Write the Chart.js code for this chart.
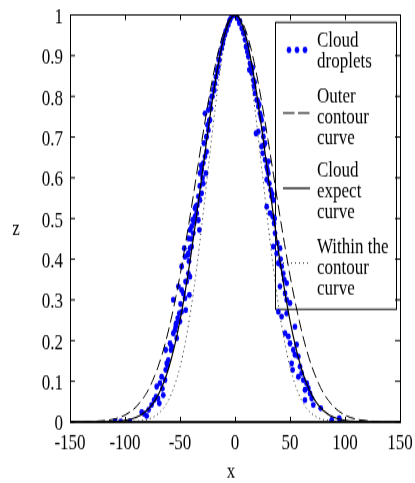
<!DOCTYPE html>
<html>
<head>
<meta charset="utf-8">
<script src="https://cdn.jsdelivr.net/npm/chart.js@4"></script>
<style>
  html, body { margin: 0; padding: 0; background: #fff; overflow: hidden; }
  #wrap { width: 415px; height: 483px; overflow: hidden; }
  /* the source figure is stretched vertically (~1.3x), so the canvas is too */
  #chart { transform: scale(1, 1.2984); transform-origin: 0 0; }
</style>
</head>
<body>
<div id="wrap"><canvas id="chart" width="415" height="372"></canvas></div>
<script>
// === data ===
const xTicks = [-150, -100, -50, 0, 50, 100, 150];
const xTickLabels = ['-150', '-100', '-50', '0', '50', '100', '150'];
const zTickLabels = ['0', '0.1', '0.2', '0.3', '0.4', '0.5', '0.6', '0.7', '0.8', '0.9', '1'];

const legendLabels = [
  ['Cloud', 'droplets'],
  ['Outer', 'contour', 'curve'],
  ['Cloud', 'expect', 'curve'],
  ['Within the', 'contour', 'curve']
];

// cloud droplets (x, z)
const dropX = [
  -109.1, -103.9, -95.5, -84.8, -80.3, -75.8, -73.6, -71.8, -71.2, -68.2,
  -66.7, -68.8, -65.2, -63.6, -63.0, -62.1, -60.6, -63.0, -59.1, -58.2,
  -56.1, -54.5, -53.0, -53.6, -52.1, -50.6, -50.0, -48.5, -56.1, -51.5,
  -48.5, -47.0, -45.5, -43.9, -44.8, -42.4, -40.9, -41.5, -48.5, -45.5,
  -46.1, -42.4, -40.9, -39.4, -42.4, -40.9, -39.4, -37.9, -38.5, -36.4,
  -34.8, -33.3, -32.4, -36.4, -34.2, -31.8, -30.3, -28.8, -33.3, -31.8,
  -30.3, -28.8, -27.3, -25.8, -26.4, -28.2, -25.8, -24.2, -22.7, -27.3,
  -24.2, -22.7, -21.2, -19.7, -18.2, -17.3, -16.7, -15.2, -14.2, -13.6,
  -12.1, -10.6, -9.1, -7.6, -6.1, -4.5, -3.0,
  -20.5, -23.5, -26.0, -29.5, -32.0, -35.5, -37.0, -39.8, -43.0, -11.0,
  -16.0, -19.0, -8.5, -5.0, -1.5, -25.0, -30.8, -14.8, -18.8, -21.8,
  -57.5, -61.5, -66.0, -70.0, -78.5, -82.5, -45.0, -49.5, -53.8, -41.8,
  0.0, 2.1, 3.9, 6.1, 7.6, 9.1, 10.0, 11.2, 12.1, 13.6,
  13.0, 15.2, 16.7, 17.3, 18.2, 19.7, 21.2, 22.7, 24.2, 19.1,
  21.2, 25.8, 27.3, 24.2, 25.2, 27.3, 28.8, 30.3, 28.8, 31.2,
  32.4, 33.3, 34.8, 28.8, 31.8, 34.2, 35.5, 36.4, 34.8, 37.9,
  40.9, 39.4, 42.4, 43.9, 47.0, 40.9, 45.5, 47.0, 50.0, 39.4,
  42.4, 47.0, 45.5, 48.5, 50.0, 54.5, 53.0, 54.5, 51.5, 57.6,
  59.1, 60.6, 62.1, 65.2, 66.7, 68.2, 69.7, 71.2, 77.9, 63.6,
  57.6, 52.4, 63.6, 87.9, 94.8, 95.5,
  1.5, 4.5, 8.5, 11.5, 14.5, 17.8, 20.5, 23.5, 26.5, 29.5,
  33.8, 36.0, 38.5, 26.0, 30.5, 16.0, 22.0, 41.5, 44.8, 56.0
];
const dropZ = [
  0.002, 0.001, 0.001, 0.024, 0.015, 0.042, 0.054, 0.062, 0.087, 0.095,
  0.111, 0.046, 0.066, 0.103, 0.128, 0.144, 0.152, 0.177, 0.193, 0.177,
  0.218, 0.226, 0.206, 0.242, 0.255, 0.267, 0.247, 0.271, 0.300, 0.333,
  0.324, 0.316, 0.304, 0.345, 0.275, 0.365, 0.357, 0.312, 0.382, 0.406,
  0.427, 0.414, 0.427, 0.431, 0.451, 0.472, 0.480, 0.464, 0.496, 0.505,
  0.513, 0.496, 0.472, 0.525, 0.533, 0.545, 0.562, 0.586, 0.554, 0.611,
  0.619, 0.636, 0.652, 0.664, 0.611, 0.685, 0.701, 0.717, 0.742, 0.758,
  0.767, 0.783, 0.799, 0.816, 0.832, 0.848, 0.865, 0.873, 0.889, 0.906,
  0.918, 0.939, 0.951, 0.963, 0.975, 0.988, 0.996,
  0.800, 0.740, 0.700, 0.600, 0.580, 0.530, 0.490, 0.450, 0.410, 0.930,
  0.860, 0.830, 0.960, 0.985, 1.000, 0.730, 0.630, 0.890, 0.815, 0.770,
  0.185, 0.140, 0.082, 0.058, 0.030, 0.020, 0.345, 0.290, 0.235, 0.395,
  1.000, 0.992, 0.980, 0.967, 0.955, 0.939, 0.922, 0.910, 0.898, 0.881,
  0.865, 0.857, 0.840, 0.824, 0.808, 0.791, 0.775, 0.758, 0.742, 0.709,
  0.713, 0.701, 0.685, 0.677, 0.660, 0.644, 0.627, 0.611, 0.595, 0.586,
  0.570, 0.554, 0.545, 0.529, 0.513, 0.505, 0.488, 0.464, 0.431, 0.414,
  0.427, 0.390, 0.382, 0.365, 0.341, 0.333, 0.316, 0.300, 0.292, 0.271,
  0.259, 0.267, 0.218, 0.210, 0.193, 0.234, 0.177, 0.165, 0.144, 0.161,
  0.136, 0.120, 0.103, 0.095, 0.083, 0.070, 0.058, 0.042, 0.034, 0.079,
  0.111, 0.128, 0.054, 0.005, 0.009, 0.000,
  0.998, 0.985, 0.955, 0.925, 0.875, 0.835, 0.790, 0.750, 0.680, 0.620,
  0.560, 0.500, 0.440, 0.720, 0.640, 0.870, 0.780, 0.400, 0.350, 0.190
];

// curves, sampled where read
const curveX = [
  -150, -140, -130, -120, -110, -100, -90, -80, -75, -70, -65, -60, -55, -50,
  -45, -40, -35, -30, -25, -20, -15, -10, -5, 0, 5, 10, 15, 20, 25, 30, 35,
  40, 45, 50, 55, 60, 65, 70, 75, 80, 90, 100, 110, 120, 130, 140, 150
];
const outerZ = [
  0, 0, 0.001, 0.003, 0.007, 0.017, 0.037, 0.073, 0.101, 0.135, 0.178, 0.230, 0.291, 0.360,
  0.438, 0.520, 0.607, 0.693, 0.775, 0.849, 0.912, 0.960, 0.990, 1, 0.990, 0.960, 0.912, 0.849, 0.775, 0.693, 0.607,
  0.520, 0.438, 0.360, 0.291, 0.230, 0.178, 0.135, 0.101, 0.073, 0.037, 0.017, 0.007, 0.003, 0.001, 0, 0
];
const expectZ = [
  0, 0, 0, 0, 0.001, 0.004, 0.011, 0.029, 0.044, 0.066, 0.096, 0.135, 0.186, 0.249,
  0.325, 0.411, 0.506, 0.607, 0.707, 0.801, 0.882, 0.946, 0.986, 1, 0.986, 0.946, 0.882, 0.801, 0.707, 0.607, 0.506,
  0.411, 0.325, 0.249, 0.186, 0.135, 0.096, 0.066, 0.044, 0.029, 0.011, 0.004, 0.001, 0, 0, 0, 0
];
const innerZ = [
  0, 0, 0, 0, 0, 0, 0.002, 0.006, 0.011, 0.020, 0.034, 0.056, 0.089, 0.135,
  0.198, 0.278, 0.375, 0.487, 0.607, 0.726, 0.835, 0.923, 0.980, 1, 0.980, 0.923, 0.835, 0.726, 0.607, 0.487, 0.375,
  0.278, 0.198, 0.135, 0.089, 0.056, 0.034, 0.020, 0.011, 0.006, 0.002, 0, 0, 0, 0, 0, 0
];

const FAMILY = '"Liberation Serif", "Times New Roman", serif';
const FONT = { family: FAMILY, size: 17 };
const toPts = (xs, ys) => xs.map((x, i) => ({ x: x, y: ys[i] }));

// frame with inward ticks, legend box, axis titles
const framePlugin = {
  id: 'frame',
  beforeDatasetsDraw(chart) {
    const ctx = chart.ctx;
    const ds = chart.data.datasets;
    ctx.save();
    ctx.strokeStyle = '#000';
    ctx.lineWidth = 1;
    ctx.strokeRect(275.5, 17.2, 121, 221);

    const firstBase = [35.9, 79.1, 136.1, 195.1];
    const markY = [38.5, 87.0, 145.0, 202.6];
    ctx.font = '17px ' + FAMILY;
    ctx.fillStyle = '#000';
    ctx.textAlign = 'left';
    ctx.textBaseline = 'alphabetic';
    legendLabels.forEach((lines, i) => {
      lines.forEach((t, j) => ctx.fillText(t, 317, firstBase[i] + j * 15.7));
      const d = ds[i];
      if (i === 0) {
        ctx.fillStyle = d.backgroundColor;
        [289, 297, 305].forEach(px => {
          ctx.beginPath();
          ctx.arc(px, markY[i], d.pointRadius, 0, Math.PI * 2);
          ctx.fill();
        });
        ctx.fillStyle = '#000';
      } else {
        ctx.beginPath();
        ctx.strokeStyle = d.borderColor;
        ctx.lineWidth = d.borderWidth;
        ctx.setLineDash(i === 1 ? [11.5, 3.5] : (d.borderDash || []));
        ctx.moveTo(283, markY[i]);
        ctx.lineTo(310, markY[i]);
        ctx.stroke();
        ctx.setLineDash([]);
      }
    });
    ctx.restore();
  },
  afterDraw(chart) {
    const ctx = chart.ctx;
    const a = chart.chartArea;
    const xs = chart.scales.x, ys = chart.scales.y;
    ctx.save();
    ctx.strokeStyle = '#000';
    ctx.lineWidth = 1;
    ctx.strokeRect(a.left + 0.5, a.top, a.right - a.left, a.bottom - a.top);
    ctx.beginPath();
    ctx.lineWidth = 1.5;
    ctx.moveTo(a.left, a.bottom);
    ctx.lineTo(a.right + 1, a.bottom);
    ctx.stroke();
    ctx.lineWidth = 1;
    ctx.beginPath();
    xs.ticks.forEach(t => {
      const px = Math.round(xs.getPixelForValue(t.value)) + 0.5;
      ctx.moveTo(px, a.bottom); ctx.lineTo(px, a.bottom - 4);
      ctx.moveTo(px, a.top); ctx.lineTo(px, a.top + 4);
    });
    ys.ticks.forEach(t => {
      const py = ys.getPixelForValue(t.value);
      ctx.moveTo(a.left, py); ctx.lineTo(a.left + 5, py);
      ctx.moveTo(a.right, py); ctx.lineTo(a.right - 5, py);
    });
    ctx.stroke();

    ctx.fillStyle = '#000';
    ctx.font = '17px ' + FAMILY;
    ctx.textAlign = 'center';
    ctx.textBaseline = 'alphabetic';
    ctx.fillText('z', 16, 181);
    ctx.fillText('x', 231, 367.5);
    ctx.restore();
  }
};

new Chart(document.getElementById('chart').getContext('2d'), {
  type: 'scatter',
  data: {
    datasets: [
      {
        label: 'Cloud droplets',
        data: toPts(dropX, dropZ),
        backgroundColor: 'rgb(0,0,255)',
        borderWidth: 0,
        pointRadius: 2.4,
        pointHoverRadius: 2.4,
        order: 1
      },
      {
        label: 'Outer contour curve',
        data: toPts(curveX, outerZ),
        showLine: true,
        borderColor: '#000',
        borderWidth: 1,
        borderDash: [9, 4],
        pointRadius: 0,
        cubicInterpolationMode: 'monotone',
        order: 0
      },
      {
        label: 'Cloud expect curve',
        data: toPts(curveX, expectZ),
        showLine: true,
        borderColor: '#000',
        borderWidth: 1.2,
        pointRadius: 0,
        cubicInterpolationMode: 'monotone',
        order: 0
      },
      {
        label: 'Within the contour curve',
        data: toPts(curveX, innerZ),
        showLine: true,
        borderColor: '#222',
        borderWidth: 1,
        borderDash: [1, 3],
        pointRadius: 0,
        cubicInterpolationMode: 'monotone',
        order: 0
      }
    ]
  },
  options: {
    responsive: false,
    animation: false,
    events: [],
    layout: { padding: { top: 11.5, right: 15, left: 0, bottom: 0 } },
    plugins: { legend: { display: false }, tooltip: { enabled: false } },
    scales: {
      x: {
        type: 'linear',
        min: -150,
        max: 150,
        afterBuildTicks: s => { s.ticks = xTicks.map(v => ({ value: v })); },
        ticks: {
          color: '#000',
          font: FONT,
          padding: 6,
          maxRotation: 0,
          callback: v => xTickLabels[xTicks.indexOf(v)]
        },
        grid: { display: false, drawTicks: false },
        border: { display: false },
        afterFit: s => { s.height = 47; s.paddingLeft = 0; s.paddingRight = 0; }
      },
      y: {
        type: 'linear',
        min: 0,
        max: 1,
        afterBuildTicks: s => { s.ticks = zTickLabels.map(l => ({ value: Number(l) })); },
        ticks: {
          color: '#000',
          font: FONT,
          padding: 7,
          labelOffset: 2,
          callback: (v, i) => zTickLabels[i]
        },
        grid: { display: false, drawTicks: false },
        border: { display: false },
        afterFit: s => { s.width = 70; s.paddingTop = 0; s.paddingBottom = 0; }
      }
    }
  },
  plugins: [framePlugin]
});
</script>
</body>
</html>
